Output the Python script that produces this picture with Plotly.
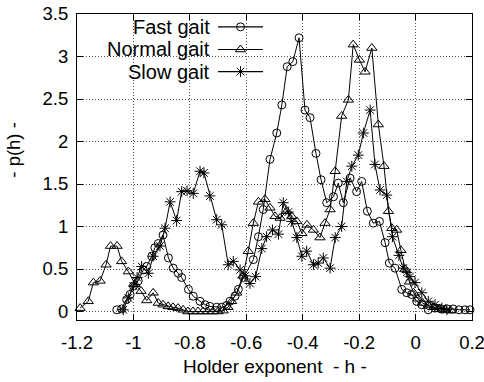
import plotly.graph_objects as go

# ---------------- data ----------------
fast_x = [-1.059, -1.042, -1.024, -1.012, -1.000, -0.983, -0.965, -0.953, -0.935, -0.924,
          -0.912, -0.895, -0.876, -0.859, -0.841, -0.829, -0.805, -0.788, -0.764, -0.746,
          -0.729, -0.705, -0.687, -0.670, -0.658, -0.640, -0.628, -0.610, -0.575, -0.557,
          -0.540, -0.516, -0.492, -0.474, -0.455, -0.435, -0.413, -0.392, -0.374, -0.353,
          -0.335, -0.315, -0.291, -0.274, -0.256, -0.232, -0.209, -0.191, -0.171, -0.150,
          -0.128, -0.108, -0.093, -0.073, -0.049, -0.031, -0.014, 0.004, 0.022, 0.045,
          0.069, 0.090, 0.112, 0.133, 0.154, 0.175, 0.193]
fast_y = [0.02, 0.03, 0.14, 0.20, 0.30, 0.36, 0.49, 0.53, 0.65, 0.75,
          0.80, 0.90, 0.63, 0.51, 0.45, 0.40, 0.26, 0.18, 0.12, 0.08,
          0.06, 0.05, 0.05, 0.07, 0.12, 0.18, 0.26, 0.40, 0.61, 0.88,
          1.20, 1.79, 2.10, 2.43, 2.88, 2.94, 3.22, 2.37, 2.28, 1.86,
          1.55, 1.28, 1.35, 1.51, 1.28, 1.57, 1.41, 1.53, 1.18, 1.04,
          1.06, 0.81, 0.57, 0.51, 0.26, 0.22, 0.20, 0.12, 0.08, 0.02,
          0.04, 0.03, 0.03, 0.03, 0.02, 0.02, 0.02]

normal_x = [-1.189, -1.160, -1.142, -1.118, -1.097, -1.081, -1.058, -1.042, -1.018, -0.994,
            -0.973, -0.953, -0.930, -0.912, -0.895, -0.877, -0.860, -0.842, -0.824, -0.807,
            -0.789, -0.771, -0.753, -0.736, -0.718, -0.700, -0.682, -0.665, -0.652, -0.634,
            -0.612, -0.593, -0.575, -0.557, -0.534, -0.516, -0.498, -0.480, -0.457, -0.439,
            -0.421, -0.403, -0.385, -0.362, -0.339, -0.321, -0.303, -0.285, -0.262, -0.238,
            -0.221, -0.199, -0.179, -0.155, -0.132, -0.112, -0.096, -0.084, -0.067, -0.052,
            -0.037, -0.022, -0.007, 0.008, 0.025, 0.045, 0.065, 0.085, 0.105, 0.125]
normal_y = [0.04, 0.12, 0.34, 0.36, 0.55, 0.77, 0.77, 0.59, 0.47, 0.32,
            0.24, 0.13, 0.22, 0.10, 0.08, 0.06, 0.05, 0.04, 0.02, 0.00,
            0.00, 0.00, 0.00, 0.00, 0.00, 0.00, 0.01, 0.05, 0.12, 0.22,
            0.42, 0.71, 1.04, 1.29, 1.32, 1.22, 1.12, 1.10, 1.18, 1.12,
            1.06, 0.92, 1.02, 0.96, 0.87, 1.04, 1.20, 1.65, 2.30, 2.49,
            3.14, 2.96, 2.82, 3.10, 2.20, 1.71, 1.18, 0.98, 0.96, 0.72,
            0.50, 0.35, 0.22, 0.15, 0.10, 0.07, 0.05, 0.03, 0.02, 0.01]

slow_x = [-1.036, -1.018, -1.000, -0.987, -0.971, -0.947, -0.930, -0.906, -0.888, -0.870,
          -0.847, -0.829, -0.810, -0.788, -0.764, -0.750, -0.729, -0.705, -0.687, -0.664,
          -0.646, -0.622, -0.604, -0.587, -0.567, -0.545, -0.528, -0.507, -0.486, -0.469,
          -0.451, -0.439, -0.421, -0.403, -0.386, -0.362, -0.345, -0.327, -0.303, -0.285,
          -0.262, -0.244, -0.226, -0.203, -0.185, -0.161, -0.144, -0.126, -0.102, -0.082,
          -0.059, -0.044, -0.031, -0.020, -0.002, 0.022, 0.045, 0.069, 0.093, 0.111]
slow_y = [0.02, 0.16, 0.30, 0.40, 0.53, 0.45, 0.65, 0.77, 0.98, 1.29,
          1.07, 1.41, 1.42, 1.39, 1.65, 1.63, 1.36, 1.08, 1.02, 0.55,
          0.59, 0.49, 0.42, 0.33, 0.41, 0.74, 0.88, 0.96, 0.91, 1.28,
          1.17, 1.06, 0.87, 0.65, 0.71, 0.55, 0.57, 0.63, 0.51, 0.87,
          1.00, 1.53, 1.71, 1.84, 2.10, 2.37, 1.73, 1.43, 1.37, 0.88,
          0.66, 0.51, 0.46, 0.41, 0.34, 0.22, 0.12, 0.08, 0.04, 0.02]

series_names = ["Fast gait", "Normal gait", "Slow gait"]
series_symbols = ["circle-open", "triangle-up-open", "asterisk-open"]

x_ticks = [-1.2, -1.0, -0.8, -0.6, -0.4, -0.2, 0.0, 0.2]
x_ticklabels = ["-1.2", "-1", "-0.8", "-0.6", "-0.4", "-0.2", "0", "0.2"]
y_ticks = [0, 0.5, 1, 1.5, 2, 2.5, 3, 3.5]
y_ticklabels = ["0", "0.5", "1", "1.5", "2", "2.5", "3", "3.5"]

x_title = "Holder exponent  - h -"
y_title = "- p(h) -"

# legend key layout (paper / key-axis units)
legend_rows = [0.958, 0.884, 0.812]
legend_text_x = 0.342
legend_line_x = (0.357, 0.471)

FONT = "Liberation Sans, Arial, Helvetica, sans-serif"

fig = go.Figure()
data = [(fast_x, fast_y), (normal_x, normal_y), (slow_x, slow_y)]
sizes = [8, 9, 9]
for (xs, ys), name, sym, sz in zip(data, series_names, series_symbols, sizes):
    fig.add_trace(go.Scatter(
        x=xs, y=ys, mode="lines+markers", name=name,
        line=dict(color="black", width=1),
        marker=dict(symbol=sym, size=sz, color="black", line=dict(color="black", width=1)),
        showlegend=False, cliponaxis=False))

# legend keys (markers drawn on an auxiliary 0..1 axis pair)
for name, sym, sz, ry in zip(series_names, series_symbols, sizes, legend_rows):
    fig.add_trace(go.Scatter(
        x=[sum(legend_line_x) / 2], y=[ry], xaxis="x2", yaxis="y2", mode="markers",
        marker=dict(symbol=sym, size=sz, color="black", line=dict(color="black", width=1)),
        showlegend=False, hoverinfo="skip"))
    fig.add_shape(type="line", xref="paper", yref="paper",
                  x0=legend_line_x[0], x1=legend_line_x[1], y0=ry, y1=ry,
                  line=dict(color="black", width=1.2), layer="above")
    fig.add_annotation(text=name, xref="paper", yref="paper", x=legend_text_x, y=ry,
                       xanchor="right", yanchor="middle", showarrow=False,
                       font=dict(family=FONT, size=20, color="black"))

# legend box masks the grid
fig.add_shape(type="rect", xref="paper", yref="paper", x0=0.003, x1=0.565, y0=0.784, y1=0.997,
              fillcolor="white", line=dict(width=0), layer="between")

axis_common = dict(
    showline=True, linecolor="black", linewidth=1, mirror="allticks",
    ticks="inside", ticklen=6, tickcolor="black", tickwidth=1,
    showgrid=True, gridcolor="#555555", gridwidth=1, griddash="1px,2px",
    zeroline=False, automargin=False, ticklabeloverflow="allow",
    tickfont=dict(family=FONT, size=18.5, color="black"),
)
fig.update_layout(
    width=484, height=382,
    margin=dict(l=77, r=12, t=14, b=62),
    paper_bgcolor="white", plot_bgcolor="white",
    xaxis=dict(range=[-1.2, 0.2], tickvals=x_ticks, ticktext=x_ticklabels,
               ticklabelstandoff=6, **axis_common),
    yaxis=dict(range=[-0.1, 3.5], tickvals=y_ticks, ticktext=y_ticklabels,
               ticklabelstandoff=4, **axis_common),
    xaxis2=dict(range=[0, 1], overlaying="x", anchor="y2", visible=False),
    yaxis2=dict(range=[0, 1], overlaying="y", anchor="x2", visible=False),
    showlegend=False,
)
fig.add_annotation(text=x_title, xref="paper", yref="paper", x=0.5, y=-0.153,
                   xanchor="center", yanchor="middle", showarrow=False,
                   font=dict(family=FONT, size=19, color="black"))
fig.add_annotation(text=y_title, xref="paper", yref="paper", x=-0.16, y=0.556,
                   xanchor="center", yanchor="middle", textangle=-90, showarrow=False,
                   font=dict(family=FONT, size=18.5, color="black"))

fig.write_html("out.html")
